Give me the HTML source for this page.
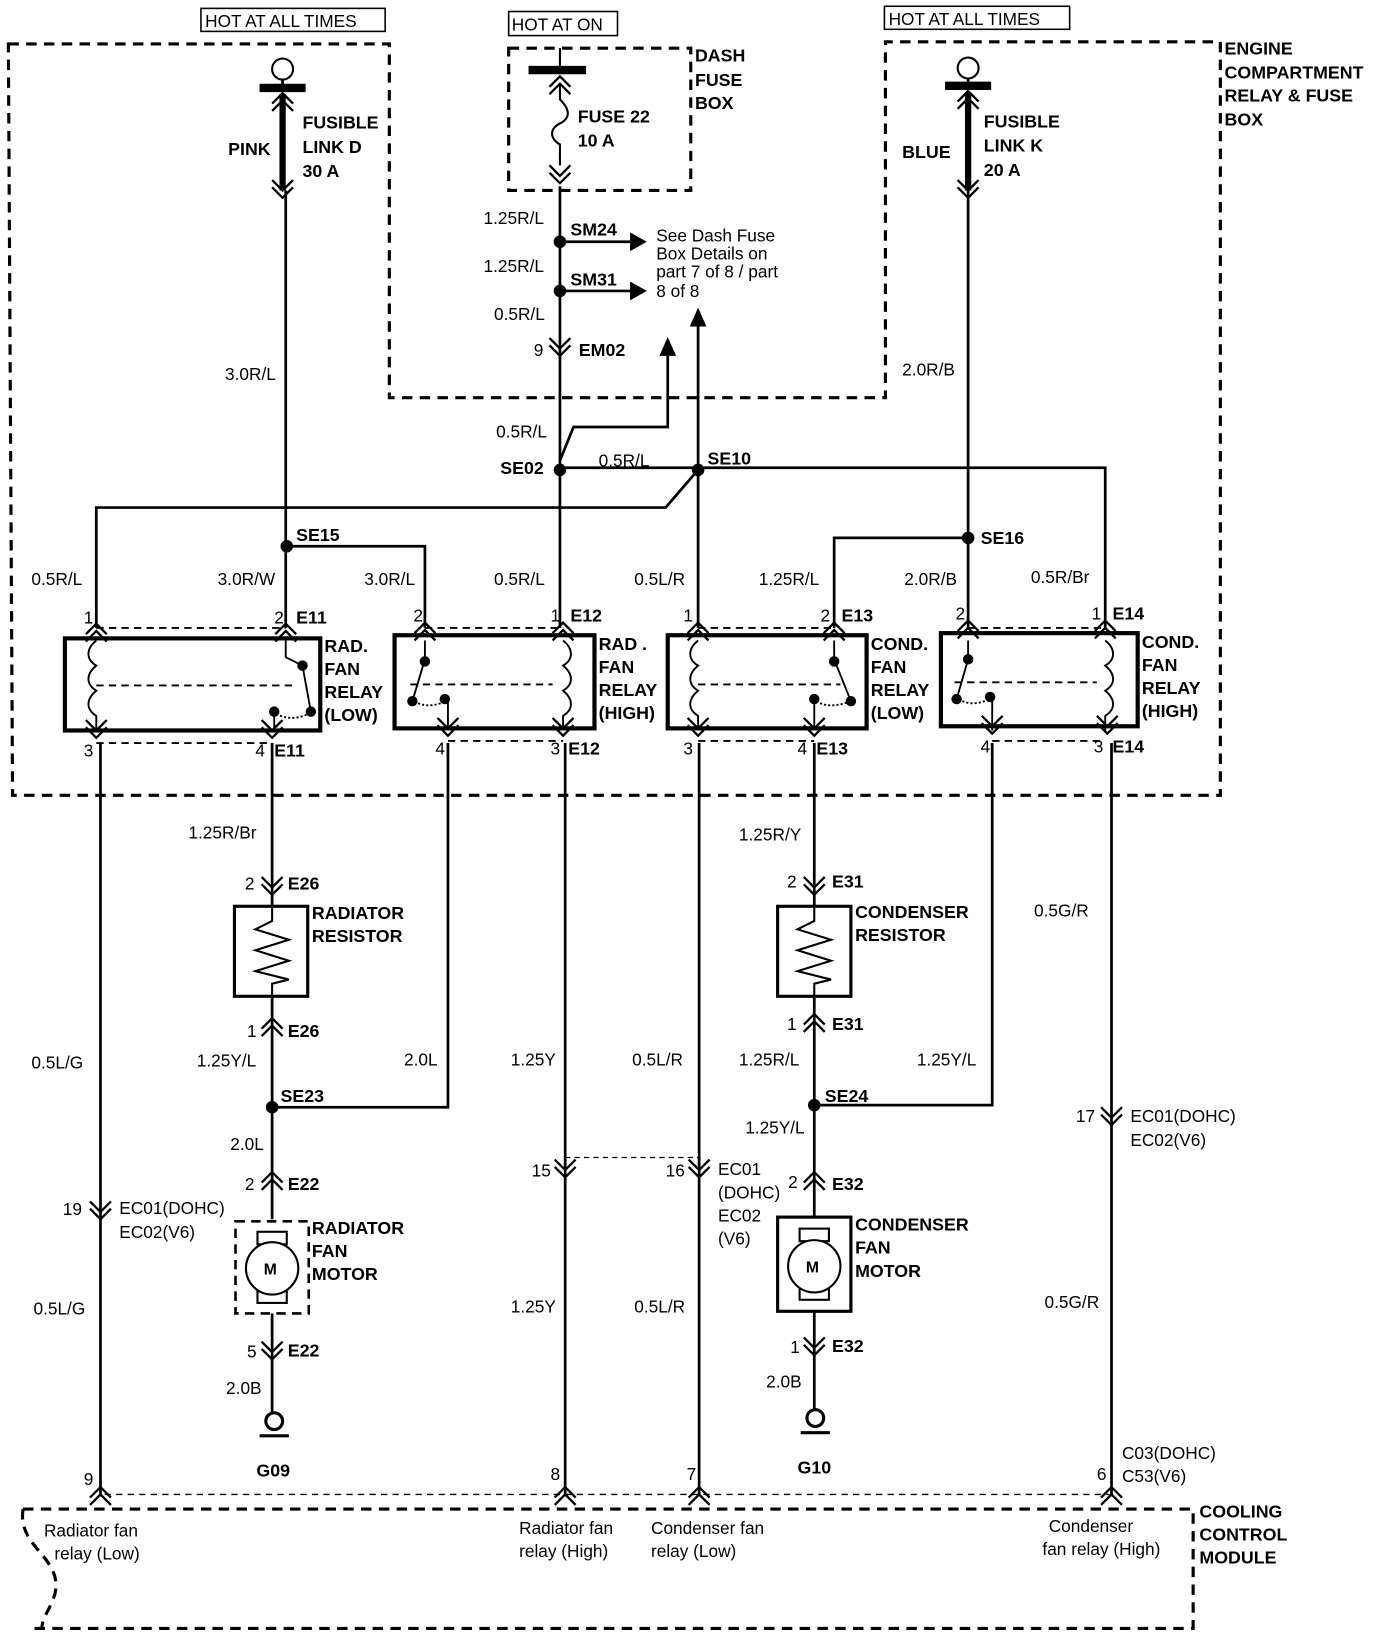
<!DOCTYPE html>
<html><head><meta charset="utf-8"><style>
html,body{margin:0;padding:0;background:#fff}
svg{display:block}
text{font-family:"Liberation Sans",Arial,sans-serif;font-size:16.5px;fill:#000}
.b{font-weight:bold;font-size:17px}
</style></head><body>
<svg width="1392" height="1642" viewBox="0 0 1330 1569" preserveAspectRatio="none" xmlns="http://www.w3.org/2000/svg">
<defs>
<path id="dn" d="M-10,-10 L0,0 L10,-10 M-10,-3 L0,7 L10,-3" fill="none" stroke="#000" stroke-width="2.2"/>
<path id="up" d="M-10,10 L0,0 L10,10 M-10,3 L0,-7 L10,3" fill="none" stroke="#000" stroke-width="2.2"/>
</defs>
<g fill="none" stroke="#000">
<rect x="192" y="8" width="176" height="22" stroke-width="1.5"/>
<rect x="486" y="11" width="104" height="23" stroke-width="1.5"/>
<rect x="845" y="6" width="177" height="22" stroke-width="1.5"/>
<path d="M8,42 L372,42 L372,380 L846,380 L846,40 L1166,40 L1166,760 L12,760 Z" stroke-width="3" stroke-dasharray="10,7"/>
<rect x="486" y="46" width="174" height="136" stroke-width="3" stroke-dasharray="10,7"/>
<path d="M100,1428 L1060,1428" stroke-width="1.3" stroke-dasharray="6,5"/>
<path d="M22,1442 L1140,1442 L1140,1556 L32,1556 M22,1442 C18,1470 40,1480 50,1500 C62,1525 40,1540 40,1556" stroke-width="3" stroke-dasharray="10,7"/>
</g>
<g fill="none" stroke="#000" stroke-width="2.6">
<circle cx="270" cy="66" r="10" stroke-width="2"/>
<line x1="270" y1="76" x2="270" y2="84"/>
<line x1="248" y1="84" x2="292" y2="84" stroke-width="8"/>
<line x1="270" y1="90" x2="270" y2="182" stroke-width="6"/>
<line x1="273" y1="182" x2="273" y2="600"/>
<circle cx="925" cy="65" r="10" stroke-width="2"/>
<line x1="925" y1="75" x2="925" y2="82"/>
<line x1="903" y1="82" x2="947" y2="82" stroke-width="8"/>
<line x1="925" y1="88" x2="925" y2="182" stroke-width="6"/>
<line x1="925" y1="182" x2="925" y2="600"/>
<line x1="505" y1="67" x2="560" y2="67" stroke-width="8"/>
<line x1="535" y1="46" x2="535" y2="66" stroke-width="2"/>
<path d="M535,80 L535,95 C545,105 545,113 535,118 C525,123 525,132 535,138 L535,158" stroke-width="2"/>
<line x1="535" y1="178" x2="535" y2="600"/>
<line x1="535" y1="231" x2="605" y2="231"/>
<line x1="535" y1="278" x2="605" y2="278"/>
<path d="M535,440 L548,408 L638,408 L638,340"/>
<line x1="667" y1="447" x2="667" y2="310"/>
<path d="M535,447 L1056,447 L1056,600"/>
<path d="M667,449 L636,485 L92,485 L92,600"/>
<line x1="667" y1="449" x2="667" y2="600"/>
<path d="M273,522 L406,522 L406,600"/>
<path d="M925,514 L797,514 L797,600"/>
<rect x="62" y="610" width="244" height="88" stroke-width="4"/>
<rect x="377" y="607" width="191" height="89" stroke-width="4"/>
<rect x="638" y="607" width="190" height="89" stroke-width="4"/>
<rect x="899" y="605" width="188" height="89" stroke-width="4"/>
<line x1="96" y1="710" x2="96" y2="1430"/>
<line x1="260" y1="710" x2="260" y2="866"/>
<path d="M428,710 L428,1058 L260,1058"/>
<line x1="540" y1="710" x2="540" y2="1430"/>
<line x1="668" y1="710" x2="668" y2="1430"/>
<line x1="778" y1="710" x2="778" y2="866"/>
<path d="M948,710 L948,1056 L778,1056"/>
<line x1="1062" y1="710" x2="1062" y2="1430"/>
<rect x="224" y="866" width="70" height="86" stroke-width="3"/>
<path d="M260,866 L260,880 L244,888 L276,898 L244,908 L276,918 L244,928 L276,936 L260,940 L260,952" stroke-width="2"/>
<line x1="260" y1="952" x2="260" y2="1165"/>
<rect x="225" y="1167" width="70" height="88" stroke-width="2.5" stroke-dasharray="9,6"/>
<rect x="246" y="1177" width="28" height="12" stroke-width="2"/>
<rect x="246" y="1233" width="28" height="12" stroke-width="2"/>
<circle cx="260" cy="1212" r="25" fill="#fff" stroke-width="2"/>
<line x1="260" y1="1255" x2="260" y2="1350"/>
<circle cx="262" cy="1358" r="8" stroke-width="3"/>
<line x1="248" y1="1372" x2="276" y2="1372" stroke-width="3"/>
<rect x="743" y="866" width="70" height="86" stroke-width="3"/>
<path d="M778,866 L778,880 L762,888 L794,898 L762,908 L794,918 L762,928 L794,936 L778,940 L778,952" stroke-width="2"/>
<line x1="778" y1="952" x2="778" y2="1163"/>
<rect x="743" y="1163" width="70" height="90" stroke-width="3"/>
<rect x="764" y="1174" width="28" height="12" stroke-width="2"/>
<rect x="764" y="1230" width="28" height="12" stroke-width="2"/>
<circle cx="778" cy="1210" r="25" fill="#fff" stroke-width="2"/>
<line x1="778" y1="1253" x2="778" y2="1347"/>
<circle cx="779" cy="1355" r="8" stroke-width="3"/>
<line x1="765" y1="1369" x2="793" y2="1369" stroke-width="3"/>
<line x1="540" y1="1106" x2="668" y2="1106" stroke-width="1.2" stroke-dasharray="5,4"/>
</g>
<g fill="none" stroke="#000" stroke-width="1.8">
<path d="M92,600 L273,600 M92,710 L258,710" stroke-dasharray="7,5"/>
<path d="M92,612 c-10,8 -10,18 0,24 c-10,8 -10,18 0,24 c-10,8 -10,18 0,24 L92,698"/>
<path d="M92,655 L282,655" stroke-dasharray="7,5"/>
<path d="M273,612 L273,628 L289,636 L297,680"/><path d="M262,698 L262,680"/><path d="M264,682 q14,8 31,0" stroke-dasharray="2,2"/>
<path d="M406,600 L538,600 M428,708 L538,708" stroke-dasharray="7,5"/>
<path d="M538,612 c10,8 10,18 0,24 c10,8 10,18 0,24 c10,8 10,18 0,24 L538,698"/>
<path d="M392,654 L528,654" stroke-dasharray="7,5"/>
<path d="M406,612 L406,630 L394,670"/><path d="M428,698 L428,670"/><path d="M396,670 q12,8 30,0" stroke-dasharray="2,2"/>
<path d="M667,600 L797,600 M667,708 L778,708" stroke-dasharray="7,5"/>
<path d="M667,612 c-10,8 -10,18 0,24 c-10,8 -10,18 0,24 c-10,8 -10,18 0,24 L667,698"/>
<path d="M667,654 L803,654" stroke-dasharray="7,5"/>
<path d="M797,612 L797,630 L813,670"/><path d="M778,698 L778,666"/><path d="M780,670 q12,8 33,0" stroke-dasharray="2,2"/>
<path d="M925,600 L1056,600 M948,708 L1056,708" stroke-dasharray="7,5"/>
<path d="M1056,612 c10,8 10,18 0,24 c10,8 10,18 0,24 c10,8 10,18 0,24 L1056,698"/>
<path d="M912,652 L1048,652" stroke-dasharray="7,5"/>
<path d="M925,612 L925,630 L914,668"/><path d="M948,698 L948,668"/><path d="M916,668 q12,8 30,0" stroke-dasharray="2,2"/>
</g>
<g fill="#000">
<circle cx="289" cy="636" r="5"/><circle cx="297" cy="680" r="5"/><circle cx="262" cy="680" r="5"/>
<circle cx="406" cy="632" r="5"/><circle cx="394" cy="670" r="5"/><circle cx="425" cy="668" r="5"/>
<circle cx="797" cy="632" r="5"/><circle cx="813" cy="670" r="5"/><circle cx="778" cy="668" r="5"/>
<circle cx="925" cy="630" r="5"/><circle cx="914" cy="668" r="5"/><circle cx="946" cy="666" r="5"/>
<circle cx="535" cy="231" r="6"/><circle cx="535" cy="278" r="6"/>
<circle cx="535" cy="449" r="6"/><circle cx="667" cy="449" r="6"/>
<circle cx="274" cy="522" r="6"/><circle cx="925" cy="514" r="6"/>
<circle cx="260" cy="1058" r="6"/><circle cx="778" cy="1056" r="6"/>
<path d="M602,222 L618,231 L602,240 Z"/><path d="M602,269 L618,278 L602,287 Z"/>
<path d="M630,340 L638,322 L646,340 Z"/><path d="M659,312 L667,294 L675,312 Z"/>
</g>
<use href="#up" x="270" y="96"/><use href="#dn" x="270" y="182"/>
<use href="#up" x="925" y="94"/><use href="#dn" x="925" y="182"/>
<use href="#up" x="535" y="80"/><use href="#dn" x="535" y="168"/>
<use href="#dn" x="535" y="333"/>
<use href="#up" x="92" y="603"/><use href="#up" x="273" y="603"/><use href="#up" x="406" y="602"/><use href="#up" x="538" y="602"/>
<use href="#up" x="667" y="602"/><use href="#up" x="797" y="602"/><use href="#up" x="925" y="600"/><use href="#up" x="1056" y="600"/>
<use href="#dn" x="92" y="698"/><use href="#dn" x="260" y="698"/><use href="#dn" x="428" y="696"/><use href="#dn" x="538" y="696"/>
<use href="#dn" x="667" y="696"/><use href="#dn" x="778" y="696"/><use href="#dn" x="948" y="694"/><use href="#dn" x="1058" y="694"/>
<use href="#dn" x="260" y="848"/><use href="#up" x="260" y="980"/><use href="#up" x="260" y="1127"/><use href="#dn" x="260" y="1292"/>
<use href="#dn" x="778" y="848"/><use href="#up" x="778" y="976"/><use href="#up" x="778" y="1127"/><use href="#dn" x="778" y="1288"/>
<use href="#dn" x="96" y="1158"/><use href="#dn" x="540" y="1118"/><use href="#dn" x="668" y="1118"/><use href="#dn" x="1062" y="1068"/>
<use href="#up" x="96" y="1428"/><use href="#up" x="540" y="1428"/><use href="#up" x="668" y="1428"/><use href="#up" x="1062" y="1428"/>
<text x="196" y="26">HOT AT ALL TIMES</text>
<text x="489" y="29">HOT AT ON</text>
<text x="849" y="24">HOT AT ALL TIMES</text>
<g class="b">
<text class="b" x="664" y="59">DASH</text><text class="b" x="664" y="82">FUSE</text><text class="b" x="664" y="104">BOX</text>
<text class="b" x="1170" y="52">ENGINE</text><text class="b" x="1170" y="75">COMPARTMENT</text><text class="b" x="1170" y="97">RELAY &amp; FUSE</text><text class="b" x="1170" y="120">BOX</text>
<text class="b" x="218" y="148">PINK</text>
<text class="b" x="289" y="123">FUSIBLE</text><text class="b" x="289" y="146">LINK D</text><text class="b" x="289" y="169">30 A</text>
<text class="b" x="862" y="151">BLUE</text>
<text class="b" x="940" y="122">FUSIBLE</text><text class="b" x="940" y="145">LINK K</text><text class="b" x="940" y="168">20 A</text>
<text class="b" x="552" y="117">FUSE 22</text><text class="b" x="552" y="140">10 A</text>
<text class="b" x="545" y="225">SM24</text><text class="b" x="545" y="273">SM31</text>
<text class="b" x="553" y="340">EM02</text>
<text class="b" x="478" y="453">SE02</text><text class="b" x="676" y="444">SE10</text>
<text class="b" x="283" y="517">SE15</text><text class="b" x="937" y="520">SE16</text>
<text class="b" x="283" y="596">E11</text><text class="b" x="545" y="594">E12</text><text class="b" x="804" y="594">E13</text><text class="b" x="1063" y="592">E14</text>
<text class="b" x="262" y="723">E11</text><text class="b" x="543" y="721">E12</text><text class="b" x="780" y="721">E13</text><text class="b" x="1063" y="719">E14</text>
<text class="b" x="310" y="623">RAD.</text><text class="b" x="310" y="645">FAN</text><text class="b" x="310" y="667">RELAY</text><text class="b" x="310" y="689">(LOW)</text>
<text class="b" x="572" y="621">RAD .</text><text class="b" x="572" y="643">FAN</text><text class="b" x="572" y="665">RELAY</text><text class="b" x="572" y="687">(HIGH)</text>
<text class="b" x="832" y="621">COND.</text><text class="b" x="832" y="643">FAN</text><text class="b" x="832" y="665">RELAY</text><text class="b" x="832" y="687">(LOW)</text>
<text class="b" x="1091" y="619">COND.</text><text class="b" x="1091" y="641">FAN</text><text class="b" x="1091" y="663">RELAY</text><text class="b" x="1091" y="685">(HIGH)</text>
<text class="b" x="275" y="850">E26</text><text class="b" x="275" y="991">E26</text>
<text class="b" x="298" y="878">RADIATOR</text><text class="b" x="298" y="900">RESISTOR</text>
<text class="b" x="268" y="1053">SE23</text>
<text class="b" x="275" y="1137">E22</text><text class="b" x="275" y="1296">E22</text>
<text class="b" x="298" y="1179">RADIATOR</text><text class="b" x="298" y="1201">FAN</text><text class="b" x="298" y="1223">MOTOR</text>
<text class="b" x="252" y="1218" style="font-size:15px">M</text>
<text class="b" x="245" y="1411">G09</text>
<text class="b" x="795" y="848">E31</text><text class="b" x="795" y="984">E31</text>
<text class="b" x="817" y="877">CONDENSER</text><text class="b" x="817" y="899">RESISTOR</text>
<text class="b" x="788" y="1053">SE24</text>
<text class="b" x="795" y="1137">E32</text><text class="b" x="795" y="1292">E32</text>
<text class="b" x="817" y="1176">CONDENSER</text><text class="b" x="817" y="1198">FAN</text><text class="b" x="817" y="1220">MOTOR</text>
<text class="b" x="770" y="1216" style="font-size:15px">M</text>
<text class="b" x="762" y="1408">G10</text>
<text class="b" x="1146" y="1450">COOLING</text><text class="b" x="1146" y="1472">CONTROL</text><text class="b" x="1146" y="1494">MODULE</text>
</g>
<text x="627" y="231">See Dash Fuse</text><text x="627" y="248">Box Details on</text><text x="627" y="265">part 7 of 8 / part</text><text x="627" y="284">8 of 8</text>
<text x="462" y="214">1.25R/L</text><text x="462" y="260">1.25R/L</text><text x="472" y="306">0.5R/L</text>
<text x="510" y="340">9</text>
<text x="215" y="363">3.0R/L</text><text x="862" y="359">2.0R/B</text>
<text x="474" y="418">0.5R/L</text><text x="572" y="446">0.5R/L</text>
<text x="30" y="559">0.5R/L</text><text x="208" y="559">3.0R/W</text><text x="348" y="559">3.0R/L</text><text x="472" y="559">0.5R/L</text>
<text x="606" y="559">0.5L/R</text><text x="725" y="559">1.25R/L</text><text x="864" y="559">2.0R/B</text><text x="985" y="557">0.5R/Br</text>
<text x="80" y="596">1</text><text x="262" y="596">2</text><text x="395" y="594">2</text><text x="526" y="594">1</text>
<text x="653" y="594">1</text><text x="784" y="594">2</text><text x="913" y="592">2</text><text x="1043" y="592">1</text>
<text x="80" y="723">3</text><text x="244" y="723">4</text><text x="416" y="721">4</text><text x="526" y="721">3</text>
<text x="653" y="721">3</text><text x="762" y="721">4</text><text x="937" y="719">4</text><text x="1045" y="719">3</text>
<text x="180" y="801">1.25R/Br</text><text x="706" y="803">1.25R/Y</text>
<text x="234" y="850">2</text><text x="752" y="848">2</text>
<text x="988" y="876">0.5G/R</text>
<text x="236" y="991">1</text><text x="752" y="984">1</text>
<text x="30" y="1021">0.5L/G</text><text x="188" y="1019">1.25Y/L</text><text x="386" y="1018">2.0L</text>
<text x="488" y="1018">1.25Y</text><text x="604" y="1018">0.5L/R</text><text x="706" y="1018">1.25R/L</text><text x="876" y="1018">1.25Y/L</text>
<text x="712" y="1083">1.25Y/L</text><text x="220" y="1099">2.0L</text>
<text x="1028" y="1072">17</text><text x="1080" y="1072">EC01(DOHC)</text><text x="1080" y="1095">EC02(V6)</text>
<text x="508" y="1124">15</text><text x="636" y="1124">16</text>
<text x="686" y="1123">EC01</text><text x="686" y="1145">(DOHC)</text><text x="753" y="1135">2</text><text x="686" y="1167">EC02</text><text x="686" y="1189">(V6)</text>
<text x="234" y="1137">2</text>
<text x="60" y="1161">19</text><text x="114" y="1160">EC01(DOHC)</text><text x="114" y="1183">EC02(V6)</text>
<text x="32" y="1256">0.5L/G</text><text x="488" y="1254">1.25Y</text><text x="606" y="1254">0.5L/R</text><text x="998" y="1250">0.5G/R</text>
<text x="236" y="1297">5</text><text x="755" y="1293">1</text>
<text x="216" y="1332">2.0B</text><text x="732" y="1326">2.0B</text>
<text x="1072" y="1394">C03(DOHC)</text><text x="1072" y="1416">C53(V6)</text>
<text x="80" y="1419">9</text><text x="526" y="1414">8</text><text x="656" y="1414">7</text><text x="1048" y="1414">6</text>
<text x="42" y="1468">Radiator fan</text><text x="52" y="1490">relay (Low)</text>
<text x="496" y="1466">Radiator fan</text><text x="496" y="1488">relay (High)</text>
<text x="622" y="1466">Condenser fan</text><text x="622" y="1488">relay (Low)</text>
<text x="1002" y="1464">Condenser</text><text x="996" y="1486">fan relay (High)</text>
</svg>
</body></html>
